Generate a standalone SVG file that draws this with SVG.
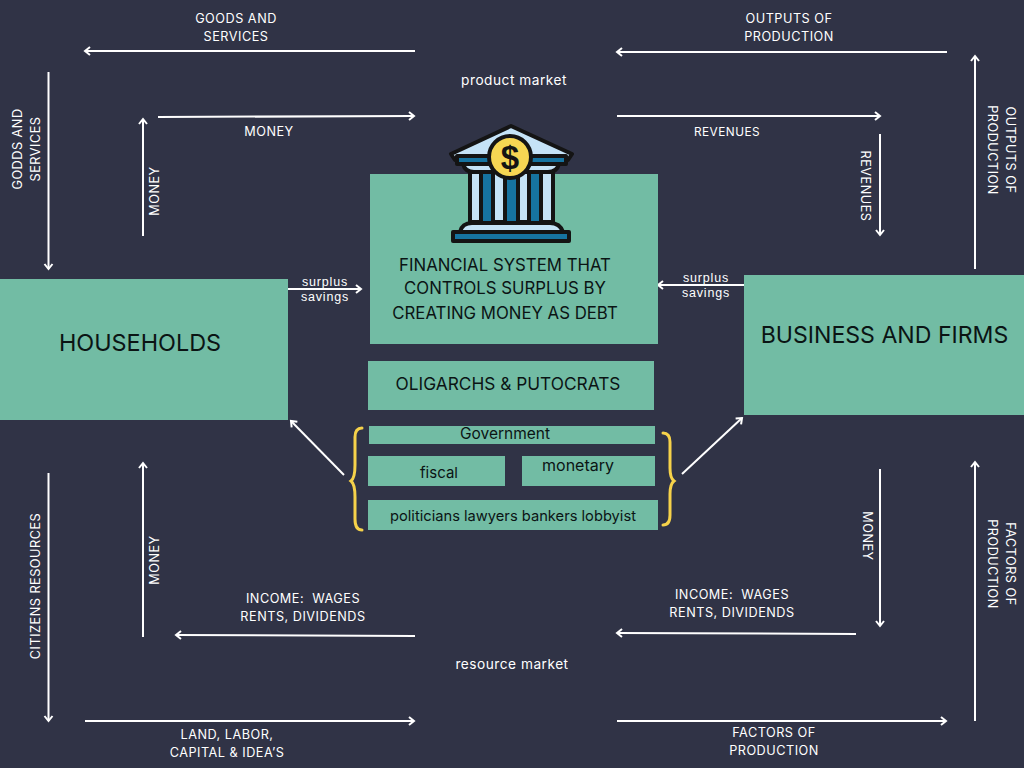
<svg xmlns="http://www.w3.org/2000/svg" width="1024" height="768" viewBox="0 0 1024 768">
<style>
.box{fill:#72bca4}
.c{fill:none;stroke:#fff;stroke-width:2;marker-end:url(#a)}
.l{font-family:"Inter","Liberation Sans",sans-serif;font-size:12.7px;fill:#fff;text-anchor:middle;letter-spacing:.5px;white-space:pre}
.m{font-size:13.7px}
.s{font-family:"Liberation Sans",sans-serif;font-size:12.5px;letter-spacing:.8px;fill:#fff;text-anchor:middle}
.d{font-family:"Inter","Liberation Sans",sans-serif;fill:#0b1414;text-anchor:middle}
.b{fill:none;stroke:#f6d24a;stroke-width:3;stroke-linecap:round}
.k{stroke:#141414;stroke-width:4;stroke-linejoin:round}
</style>
<defs><marker id="a" markerUnits="userSpaceOnUse" markerWidth="12" markerHeight="12" refX="7" refY="5" orient="auto"><path d="M2 1L7 5L2 9" fill="none" stroke="#fff" stroke-width="2"/></marker></defs>
<rect width="1024" height="768" fill="#303346"/>
<g id="connectors">
<path class="c" d="M415 51H85"/><path class="c" d="M947 52H617"/>
<path class="c" d="M48.500 72V269"/><path class="c" d="M143 236V119"/>
<path class="c" d="M158 117L414 116"/><path class="c" d="M617 116H880"/>
<path class="c" d="M880 134V235"/><path class="c" d="M975 269V56"/>
<path class="c" d="M288 289H361"/><path class="c" d="M744 285H658"/>
<path class="c" d="M344 475L291 421"/><path class="c" d="M682 474L742 418"/>
<path class="c" d="M48.500 473V721"/><path class="c" d="M143 637V463"/>
<path class="c" d="M415 636L176 635"/><path class="c" d="M856 634L617 633"/>
<path class="c" d="M880 469V626"/><path class="c" d="M975 721V462"/>
<path class="c" d="M85 721H414"/><path class="c" d="M617 721H946"/>
</g>
<g id="households"><rect class="box" x="0" y="279" width="288" height="141"/><text class="d" x="140" y="351" font-size="23.4">HOUSEHOLDS</text></g>
<g id="business"><rect class="box" x="744" y="275" width="280" height="140"/><text class="d" x="884.500" y="343" font-size="23.1">BUSINESS AND FIRMS</text></g>
<g id="financial"><rect class="box" x="370" y="174" width="288" height="170"/>
<text class="d" font-size="16.8"><tspan x="505" y="271">FINANCIAL SYSTEM THAT</tspan><tspan x="505" y="294">CONTROLS SURPLUS BY</tspan><tspan x="505" y="319">CREATING MONEY AS DEBT</tspan></text></g>
<g id="bank">
<path class="k" d="M451 154L511 126L572 154L568 160H455Z" fill="#c5e3f7"/>
<rect class="k" x="457" y="156" width="109" height="8" fill="#1673a0"/>
<path class="k" d="M463 164H559Q557 172 548 172H474Q465 172 463 164Z" fill="#c5e3f7"/>
<rect class="k" x="470" y="172" width="83" height="50" fill="#c5e3f7"/>
<g fill="#1673a0"><rect x="483" y="174" width="8" height="47"/><rect x="507" y="174" width="9" height="47"/><rect x="531" y="174" width="8" height="47"/></g>
<g stroke="#141414" stroke-width="4"><path d="M481 172V222M493 172V222M505 172V222M518 172V222M529 172V222M541 172V222"/></g>
<path class="k" d="M460 232Q462 223 472 223H550Q560 223 563 232Z" fill="#c5e3f7"/>
<rect class="k" x="453" y="232" width="116" height="9" fill="#1673a0"/>
<circle cx="510" cy="157" r="21" fill="#f6d653" stroke="#141414" stroke-width="4"/>
<text x="510" y="169" font-family="'Liberation Sans',sans-serif" font-size="33" font-weight="700" fill="#141414" text-anchor="middle">$</text>
</g>
<g id="oligarchs"><rect class="box" x="368" y="361" width="286" height="49"/><text class="d" x="508" y="390" font-size="17.300">OLIGARCHS &amp; PUTOCRATS</text></g>
<g id="government"><rect class="box" x="369" y="426" width="286" height="18"/><text class="d" x="505" y="439" font-size="15.500">Government</text></g>
<g id="fiscal"><rect class="box" x="368" y="456" width="137" height="30"/><text class="d" x="439" y="478" font-size="15">fiscal</text></g>
<g id="monetary"><rect class="box" x="522" y="456" width="133" height="30"/><text class="d" x="578" y="471" font-size="16">monetary</text></g>
<g id="politicians"><rect class="box" x="368" y="500" width="290" height="30"/><text class="d" x="513" y="521" font-size="14.700">politicians lawyers bankers lobbyist</text></g>
<g id="braces">
<path class="b" d="M362 428Q355 428 355 437V465Q355 478 351 481Q355 484 355 497V519Q355 530 362 530"/>
<path class="b" d="M663 433Q670 433 670 442V468Q670 478 674 481Q670 484 670 494V515Q670 525 663 525"/>
</g>
<g id="labels">
<text class="l"><tspan x="236" y="23">GOODS AND</tspan><tspan x="236" y="41">SERVICES</tspan></text>
<text class="l"><tspan x="789" y="23">OUTPUTS OF</tspan><tspan x="789" y="41">PRODUCTION</tspan></text>
<text class="l m" x="514" y="85">product market</text>
<text class="l" x="269" y="136">MONEY</text>
<text class="l" x="727" y="136" style="font-size:11.8px">REVENUES</text>
<text class="l" transform="translate(22 149) rotate(-90)"><tspan x="0" y="0">GODDS AND</tspan><tspan x="0" y="18">SERVICES</tspan></text>
<text class="l" transform="translate(159 191) rotate(-90)">MONEY</text>
<text class="l" transform="translate(861 186) rotate(90)">REVENUES</text>
<text class="l" transform="translate(1006 150) rotate(90)"><tspan x="0" y="0">OUTPUTS OF</tspan><tspan x="0" y="18">PRODUCTION</tspan></text>
<text class="s"><tspan x="325" y="286">surplus</tspan><tspan x="325" y="301">savings</tspan></text>
<text class="s"><tspan x="706" y="282">surplus</tspan><tspan x="706" y="297">savings</tspan></text>
<text class="l" transform="translate(40 586) rotate(-90)">CITIZENS RESOURCES</text>
<text class="l" transform="translate(159 560) rotate(-90)">MONEY</text>
<text class="l" transform="translate(863 536) rotate(90)">MONEY</text>
<text class="l" transform="translate(1006 564) rotate(90)"><tspan x="0" y="0">FACTORS OF</tspan><tspan x="0" y="18">PRODUCTION</tspan></text>
<text class="l"><tspan x="303" y="603">INCOME:  WAGES</tspan><tspan x="303" y="621">RENTS, DIVIDENDS</tspan></text>
<text class="l"><tspan x="732" y="599">INCOME:  WAGES</tspan><tspan x="732" y="617">RENTS, DIVIDENDS</tspan></text>
<text class="l m" x="512" y="669">resource market</text>
<text class="l"><tspan x="227" y="739">LAND, LABOR,</tspan><tspan x="227" y="757">CAPITAL &amp; IDEA’S</tspan></text>
<text class="l"><tspan x="774" y="737">FACTORS OF</tspan><tspan x="774" y="755">PRODUCTION</tspan></text>
</g>
</svg>
